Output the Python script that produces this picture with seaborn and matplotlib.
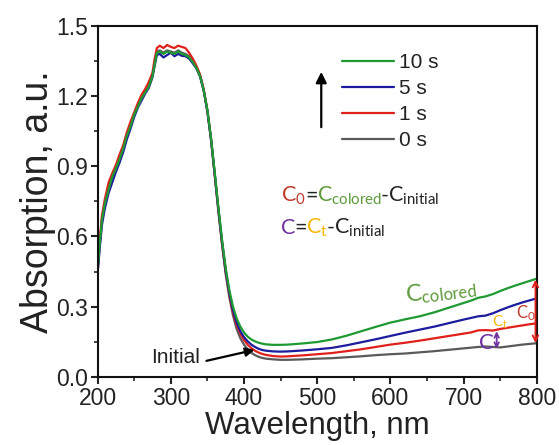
import matplotlib
matplotlib.use('Agg')
import matplotlib.pyplot as plt
from matplotlib.ticker import MultipleLocator, FormatStrFormatter
import seaborn as sns
import pandas as pd

# wavelength grid (nm)
wl = [200, 203, 206, 210, 215, 220, 225, 230, 235, 240,
      245, 250, 255, 260, 265, 270, 275, 278, 281, 285,
      290, 295, 300, 305, 310, 315, 320, 325, 330, 335,
      340, 345, 350, 355, 360, 365, 370, 375, 380, 385,
      390, 395, 400, 405, 410, 415, 420, 425, 430, 440,
      450, 460, 480, 500, 520, 540, 560, 580, 600, 620,
      640, 660, 680, 700, 710, 720, 730, 740, 750, 760,
      770, 780, 790, 800]

abs_0s = [0.45, 0.565, 0.675, 0.745, 0.805, 0.86, 0.895, 0.935, 0.98, 1.035,
          1.075, 1.12, 1.16, 1.195, 1.22, 1.245, 1.29, 1.34, 1.39, 1.395,
          1.385, 1.395, 1.39, 1.385, 1.395, 1.385, 1.38, 1.37, 1.35, 1.322,
          1.286, 1.224, 1.136, 1.012, 0.862, 0.708, 0.565, 0.44, 0.34, 0.262,
          0.205, 0.165, 0.138, 0.118, 0.103, 0.093, 0.086, 0.081, 0.078, 0.075,
          0.073, 0.073, 0.075, 0.078, 0.08, 0.084, 0.088, 0.093, 0.097, 0.10,
          0.105, 0.11, 0.116, 0.122, 0.125, 0.128, 0.13, 0.128, 0.126, 0.13,
          0.134, 0.138, 0.141, 0.144]

abs_1s = [0.46, 0.585, 0.69, 0.76, 0.83, 0.87, 0.905, 0.95, 0.99, 1.045,
          1.09, 1.13, 1.17, 1.205, 1.23, 1.26, 1.30, 1.36, 1.405, 1.415,
          1.405, 1.418, 1.41, 1.405, 1.415, 1.41, 1.405, 1.385, 1.36, 1.33,
          1.292, 1.228, 1.138, 1.015, 0.865, 0.713, 0.572, 0.448, 0.35, 0.275,
          0.222, 0.185, 0.158, 0.138, 0.123, 0.112, 0.104, 0.098, 0.094, 0.089,
          0.087, 0.088, 0.092, 0.097, 0.102, 0.11, 0.118, 0.128, 0.138, 0.146,
          0.155, 0.165, 0.175, 0.185, 0.19, 0.199, 0.20, 0.198, 0.205, 0.21,
          0.215, 0.22, 0.225, 0.229]

abs_5s = [0.44, 0.55, 0.65, 0.72, 0.785, 0.83, 0.875, 0.915, 0.96, 1.015,
          1.06, 1.11, 1.15, 1.18, 1.21, 1.235, 1.28, 1.33, 1.375, 1.38,
          1.365, 1.375, 1.385, 1.37, 1.38, 1.372, 1.37, 1.36, 1.34, 1.318,
          1.283, 1.222, 1.135, 1.015, 0.868, 0.718, 0.578, 0.455, 0.358, 0.285,
          0.232, 0.195, 0.17, 0.152, 0.138, 0.128, 0.12, 0.115, 0.112, 0.109,
          0.108, 0.109, 0.113, 0.118, 0.124, 0.135, 0.148, 0.161, 0.175, 0.189,
          0.202, 0.215, 0.23, 0.245, 0.252, 0.259, 0.262, 0.272, 0.285, 0.297,
          0.308, 0.318, 0.327, 0.336]

abs_10s = [0.45, 0.57, 0.67, 0.74, 0.80, 0.855, 0.89, 0.93, 0.975, 1.03,
           1.07, 1.12, 1.155, 1.19, 1.215, 1.24, 1.285, 1.335, 1.385, 1.39,
           1.38, 1.39, 1.385, 1.38, 1.39, 1.38, 1.375, 1.365, 1.345, 1.32,
           1.285, 1.225, 1.14, 1.02, 0.875, 0.725, 0.585, 0.465, 0.37, 0.30,
           0.25, 0.215, 0.19, 0.172, 0.16, 0.152, 0.146, 0.142, 0.139, 0.137,
           0.137, 0.138, 0.143, 0.149, 0.160, 0.176, 0.195, 0.214, 0.232, 0.246,
           0.259, 0.276, 0.296, 0.316, 0.326, 0.338, 0.344, 0.354, 0.367, 0.379,
           0.39, 0.40, 0.41, 0.42]

times = ['0 s', '1 s', '5 s', '10 s']
colors = ['#5a5a5a', '#e0201b', '#1c1c9e', '#1f9a32']

df = pd.concat([
    pd.DataFrame({'wl': wl, 'abs': a, 'time': t})
    for a, t in zip([abs_0s, abs_1s, abs_5s, abs_10s], times)
])

sns.set_style('ticks')
plt.rcParams['font.family'] = ['Liberation Sans', 'DejaVu Sans']
plt.rcParams['axes.linewidth'] = 1.5

fig = plt.figure(figsize=(5.59, 4.45), dpi=100)
ax = fig.add_axes([0.1745, 0.153, 0.786, 0.789])

sns.lineplot(data=df, x='wl', y='abs', hue='time', hue_order=times,
             palette=colors, linewidth=1.6, ax=ax, sort=False)

ax.set_xlim(200, 800)
ax.set_ylim(0, 1.5)
ax.xaxis.set_major_locator(MultipleLocator(100))
ax.xaxis.set_minor_locator(MultipleLocator(50))
ax.yaxis.set_major_locator(MultipleLocator(0.3))
ax.yaxis.set_minor_locator(MultipleLocator(0.15))
ax.yaxis.set_major_formatter(FormatStrFormatter('%.1f'))
ax.tick_params(which='major', length=5, width=1.5, labelsize=16.5, colors='#222222', pad=2)
ax.tick_params(which='minor', length=3, width=1.2)
for s in ax.spines.values():
    s.set_color('#111111')

ax.set_xlabel('Wavelength, nm', fontsize=22.5, labelpad=1, color='#222222')
ax.set_ylabel('Absorption, a.u.', fontsize=27, labelpad=0, color='#222222')

# legend, newest on top
h, l = ax.get_legend_handles_labels()
ax.legend(h[::-1], l[::-1], loc='upper left', bbox_to_anchor=(0.556, 0.922),
          frameon=False, fontsize=15, handlelength=2.5, handletextpad=0.25,
          labelspacing=0.33, borderpad=0, borderaxespad=0, labelcolor='#222222')

ax.annotate('', xy=(505.5, 1.315), xytext=(505.5, 1.055),
            arrowprops=dict(arrowstyle='-|>', color='black', lw=1.6, mutation_scale=16))

# Initial marker
ax.text(340, 0.084, 'Initial', fontsize=15, ha='right', va='center', color='#222222')
ax.annotate('', xy=(418, 0.118), xytext=(345, 0.066),
            arrowprops=dict(arrowstyle='-|>', color='black', lw=1.6, mutation_scale=13))

# coloured formulas
c_red = '#c0392b'
c_green = '#5e9a3c'
c_purple = '#7030a0'
c_yellow = '#f5b800'
c_black = '#222222'


def colored_line(x, y, pieces, size):
    renderer = fig.canvas.get_renderer()
    px, py = ax.transData.transform((x, y))
    for s, c in pieces:
        t = ax.text(px, py, s, color=c, fontsize=size, family='Lato',
                    va='baseline', ha='left', transform=None)
        px = t.get_window_extent(renderer).x1 - 1


colored_line(451, 0.749, [(r'$\mathregular{C_{0}}$', c_red), ('=', c_black),
                          (r'$\mathregular{C_{colored}}$', c_green), ('-', c_black),
                          (r'$\mathregular{C_{initial}}$', c_black)], 15.5)
colored_line(451, 0.611, [('C', c_purple), ('=', c_black),
                          (r'$\mathregular{C_{t}}$', c_yellow), ('-', c_black),
                          (r'$\mathregular{C_{initial}}$', c_black)], 15.5)

ax.text(622, 0.32, r'$\mathregular{C_{colored}}$', rotation=7, rotation_mode='anchor',
        color=c_green, fontsize=17, family='Lato')
ax.text(738, 0.214, r'$\mathregular{C_{t}}$', color=c_yellow, fontsize=11, family='Lato')
ax.text(772, 0.252, r'$\mathregular{C_{0}}$', color=c_red, fontsize=12, family='Lato')
ax.text(721, 0.12, 'C', color=c_purple, fontsize=16, family='Lato')
ax.annotate('', xy=(745, 0.195), xytext=(745, 0.12),
            arrowprops=dict(arrowstyle='<->', color=c_purple, lw=1.3, mutation_scale=8,
                            shrinkA=0, shrinkB=0))
ax.annotate('', xy=(798, 0.415), xytext=(798, 0.145),
            arrowprops=dict(arrowstyle='<->', color='#e0201b', lw=1.3, mutation_scale=10,
                            shrinkA=0, shrinkB=0))

fig.savefig('out.png', dpi=100)
